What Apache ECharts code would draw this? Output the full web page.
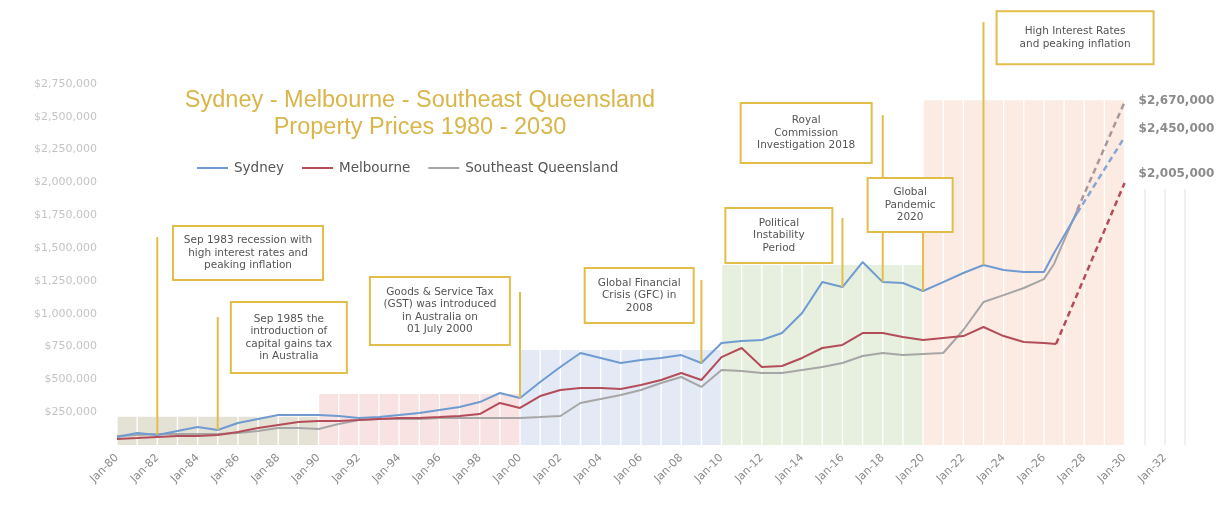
<!DOCTYPE html>
<html><head><meta charset="utf-8">
<script src="https://cdn.jsdelivr.net/npm/echarts@6/dist/echarts.min.js"></script>
<style>html,body{margin:0;padding:0;background:#fff;}#c{width:1224px;height:527px;}</style>
</head><body><div id="c"></div>
<script>
// ---------- DATA ----------
const histYears = [1980,1981,1982,1983,1984,1985,1986,1987,1988,1989,1990,1991,1992,1993,1994,1995,1996,1997,1998,1999,2000,2001,2002,2003,2004,2005,2006,2007,2008,2009,2010,2011,2012,2013,2014,2015,2016,2017,2018,2019,2020,2021,2022,2023,2024,2025,2026];
const sydney = [61000,91000,76000,107000,137000,114000,168000,198000,228000,228000,228000,221000,206000,213000,228000,244000,267000,290000,327000,396000,358000,480000,594000,701000,663000,625000,647000,663000,685000,625000,777000,792000,800000,853000,1005000,1241000,1203000,1394000,1241000,1234000,1173000,1241000,1310000,1371000,1333000,1318000,1318000];
const melbourne = [46000,53000,61000,69000,69000,76000,99000,129000,152000,175000,183000,183000,190000,198000,206000,206000,213000,221000,236000,320000,282000,373000,419000,434000,434000,426000,457000,495000,548000,495000,670000,739000,594000,602000,663000,739000,762000,853000,853000,823000,800000,815000,830000,899000,830000,784000,777000];
const seq = [69000,76000,84000,84000,84000,84000,91000,107000,129000,129000,122000,160000,190000,198000,198000,198000,206000,206000,206000,206000,206000,213000,221000,320000,350000,381000,419000,472000,518000,442000,571000,564000,548000,548000,571000,594000,625000,678000,701000,685000,693000,701000,876000,1089000,1142000,1196000,1264000];
// tail points after Jan-26 (solid part)
const sydneyTailYears = [2026.5, 2027.65];
const sydneyTail = [1462000, 1767000];
const seqTailYears = [2026.5, 2027.65];
const seqTail = [1379000, 1790000];
const melTailYears = [2026.6];
const melTail = [769000];
// projections (dashed) to Jan-30
const projSydneyYears = [2027.65, 2030];
const projSydney = [1767000, 2346000];
const projSeqYears = [2027.65, 2030];
const projSeq = [1790000, 2612000];
const projMelYears = [2026.6, 2030];
const projMel = [769000, 1995000];
const projLabels = ['$2,450,000', '$2,670,000', '$2,005,000'];
// shaded eras
const eraStart = [1980, 1990, 2000, 2010, 2020];
const eraEnd = [1990, 2000, 2010, 2020, 2030];
const eraTop = [215000, 388000, 724000, 1371000, 2627000];
const futureLineYears = [2031, 2032, 2033];
const futureLineTop = 1950000;
// annotations
const annoYears = [1982, 1985, 2000, 2009, 2016, 2018, 2020, 2023];
const annoTops = [1584000, 975000, 1165000, 1257000, 1729000, 2513000, 1622000, 3222000];
const annoTexts = [
  'Sep 1983 recession with\nhigh interest rates and\npeaking inflation',
  'Sep 1985 the\nintroduction of\ncapital gains tax\nin Australia',
  'Goods & Service Tax\n(GST) was introduced\nin Australia on\n01 July 2000',
  'Global Financial\nCrisis (GFC) in\n2008',
  'Political\nInstability\nPeriod',
  'Royal\nCommission\nInvestigation 2018',
  'Global\nPandemic\n2020',
  'High Interest Rates\nand peaking inflation'
];
const boxLeftYears = [1982.78, 1985.65, 1992.55, 2003.21, 2010.19, 2010.95, 2017.25, 2023.65];
const boxTopValues = [1668000, 1089000, 1280000, 1348000, 1805000, 2605000, 2034000, 3305000];
const boxW = [150, 116, 140, 109, 107, 131, 85, 157];
const boxH = [54, 71, 68, 55, 55, 60, 54, 53];

// ---------- STYLE ----------
const C_SYD = '#6f9bd1', C_MEL = '#b34d59', C_SEQ = '#a6a6a6', C_SEQ_PROJ = '#a8979b';
const eraColors = ['#e4e1d5', '#f8e2e2', '#e3eaf5', '#e7f0de', '#fcebe2'];
const GOLD = '#e2bd4a';

const pairs = (xs, ys) => xs.map((x, i) => [x, ys[i]]);
const bgData = [];
eraStart.forEach((s, k) => {
  for (let y = s; y < eraEnd[k]; y++) bgData.push({ value: [y + 0.5, eraTop[k]], itemStyle: { color: eraColors[k] } });
});

const chart = echarts.init(document.getElementById('c'), null, { renderer: 'canvas' });
const FONT = '"DejaVu Sans", sans-serif';

const option = {
  animation: false,
  backgroundColor: '#fff',
  title: {
    text: 'Sydney - Melbourne - Southeast Queensland\nProperty Prices 1980 - 2030',
    left: 415, top: 82, textAlign: 'center',
    textStyle: { color: '#d9b54a', fontSize: 23.5, fontWeight: 'normal', lineHeight: 27, fontFamily: '"Liberation Sans", Arial, sans-serif' }
  },
  legend: {
    data: ['Sydney', 'Melbourne', 'Southeast Queensland'],
    left: 192, top: 156, icon: 'rect', itemWidth: 31, itemHeight: 2, itemGap: 18,
    textStyle: { color: '#555', fontSize: 13.5, fontFamily: FONT, padding: [0, 0, 0, 1] }
  },
  grid: { left: 117, right: 39, top: 84, bottom: 82 },
  xAxis: {
    type: 'value', min: 1980, max: 2033, interval: 1,
    axisLine: { show: false }, axisTick: { show: false }, splitLine: { show: false },
    axisLabel: {
      rotate: 45, margin: 11, color: '#8a8a8a', fontSize: 11, fontFamily: FONT,
      formatter: v => (v % 2 === 0 ? 'Jan-' + String(v).slice(2) : '')
    }
  },
  yAxis: {
    type: 'value', min: 0, max: 2750000, interval: 250000,
    axisLine: { show: false }, axisTick: { show: false }, splitLine: { show: false },
    axisLabel: {
      margin: 20, color: '#c4c4c4', fontSize: 11, fontFamily: FONT,
      formatter: v => (v === 0 ? '' : '$' + v.toLocaleString('en-US'))
    }
  },
  series: [
    {
      type: 'bar', name: 'bg', data: bgData, barWidth: 18.8, silent: true, z: 1,
      markLine: {
        silent: true, symbol: 'none', label: { show: false },
        lineStyle: { color: '#ebebeb', type: 'solid', width: 1.5 },
        data: futureLineYears.map(y => [{ coord: [y, 0] }, { coord: [y, futureLineTop] }])
      }
    },
    { type: 'line', name: 'Sydney', data: pairs(histYears.concat(sydneyTailYears), sydney.concat(sydneyTail)), symbol: 'none', showSymbol: false, lineStyle: { color: C_SYD, width: 2 }, itemStyle: { color: C_SYD }, z: 4 },
    { type: 'line', name: 'Melbourne', data: pairs(histYears.concat(melTailYears), melbourne.concat(melTail)), symbol: 'none', showSymbol: false, lineStyle: { color: C_MEL, width: 2 }, itemStyle: { color: C_MEL }, z: 4 },
    { type: 'line', name: 'Southeast Queensland', data: pairs(histYears.concat(seqTailYears), seq.concat(seqTail)), symbol: 'none', showSymbol: false, lineStyle: { color: C_SEQ, width: 2 }, itemStyle: { color: C_SEQ }, z: 3 },
    { type: 'line', name: 'Sydney proj', data: pairs(projSydneyYears, projSydney), symbol: 'none', showSymbol: false, lineStyle: { color: '#86a7d4', width: 2.5, type: [6, 4] }, z: 4,
      endLabel: { show: true, formatter: projLabels[0], offset: [6, -8], color: '#8c8c8c', fontSize: 12, fontWeight: 'bold', fontFamily: FONT } },
    { type: 'line', name: 'SEQ proj', data: pairs(projSeqYears, projSeq), symbol: 'none', showSymbol: false, lineStyle: { color: C_SEQ_PROJ, width: 2.5, type: [6, 4] }, z: 4,
      endLabel: { show: true, formatter: projLabels[1], offset: [6, -1], color: '#8c8c8c', fontSize: 12, fontWeight: 'bold', fontFamily: FONT } },
    { type: 'line', name: 'Melbourne proj', data: pairs(projMelYears, projMel), symbol: 'none', showSymbol: false, lineStyle: { color: C_MEL, width: 2.5, type: [6, 4] }, z: 4,
      endLabel: { show: true, formatter: projLabels[2], offset: [6, -9], color: '#8c8c8c', fontSize: 12, fontWeight: 'bold', fontFamily: FONT } }
  ]
};
chart.setOption(option);

// annotations anchored through the chart's own scales
const px = (x, y) => chart.convertToPixel({ gridIndex: 0 }, [x, y]);
const graphics = [];
annoYears.forEach((yr, i) => {
  const bottom = px(yr, sydney[yr - 1980]);
  const top = px(yr, annoTops[i]);
  graphics.push({ type: 'line', z: 50, silent: true, shape: { x1: bottom[0], y1: bottom[1], x2: top[0], y2: top[1] }, style: { stroke: GOLD, lineWidth: 2 } });
});
annoYears.forEach((yr, i) => {
  const tl = px(boxLeftYears[i], boxTopValues[i]);
  graphics.push({ type: 'rect', z: 60, silent: true, shape: { x: tl[0], y: tl[1], width: boxW[i], height: boxH[i] }, style: { fill: '#fff', stroke: GOLD, lineWidth: 2 } });
  graphics.push({ type: 'text', z: 61, silent: true, style: { text: annoTexts[i], x: tl[0] + boxW[i] / 2, y: tl[1] + boxH[i] / 2, align: 'center', verticalAlign: 'middle', textAlign: 'center', textVerticalAlign: 'middle', font: '10.5px "DejaVu Sans", sans-serif', fill: '#555', lineHeight: 12.5 } });
});
chart.setOption({ graphic: graphics });
</script>
</body></html>
